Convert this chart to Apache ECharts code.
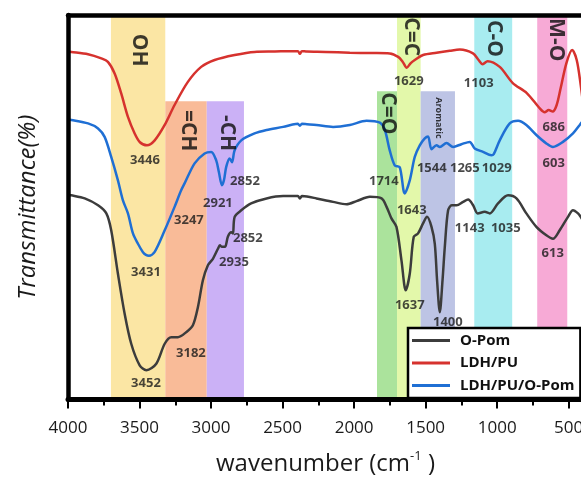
<!DOCTYPE html>
<html>
<head>
<meta charset="utf-8">
<script src="https://cdn.jsdelivr.net/npm/echarts@6/dist/echarts.min.js"></script>
<style>
  html, body { margin: 0; padding: 0; background: #fff; }
  #chart { width: 581px; height: 477px; }
</style>
</head>
<body>
<div id="chart"></div>
<script>
// FTIR spectra: wavenumber (cm-1) vs transmittance (arbitrary, offset traces)
const wavenumberTicks = [4000, 3500, 3000, 2500, 2000, 1500, 1000, 500];
const minorTicks = [3750, 3250, 2750, 2250, 1750, 1250, 750];

const seriesNames = ['O-Pom', 'LDH/PU', 'LDH/PU/O-Pom'];

const oPom = [
  [4000,53.2],[3977,53.1],[3883,52.3],[3790,50.5],[3732,48.4],[3698,44.0],[3651,32.7],[3604,22.3],
  [3558,14.5],[3499,8.9],[3452,7.6],[3383,9.3],[3324,14.5],[3278,16.2],[3232,16.2],[3174,17.5],
  [3127,19.3],[3092,24.0],[3057,31.0],[3022,34.9],[2987,36.6],[2952,39.2],[2938,40.1],[2924,39.7],
  [2903,39.7],[2882,42.4],[2859,43.5],[2847,43.2],[2835,47.5],[2789,49.2],[2720,51.0],[2612,52.3],
  [2496,52.9],[2430,52.9],[2393,52.9],[2379,52.3],[2365,52.9],[2330,52.8],[2263,52.3],[2147,51.4],
  [2053,50.8],[1983,51.6],[1890,52.7],[1808,52.3],[1773,50.1],[1739,47.1],[1704,44.9],[1669,36.2],
  [1639,28.4],[1611,32.7],[1583,42.3],[1553,43.2],[1518,45.8],[1490,47.5],[1459,44.9],[1436,40.5],
  [1420,31.0],[1401,22.7],[1382,31.0],[1366,39.7],[1343,49.2],[1317,50.5],[1284,50.5],[1238,51.4],
  [1203,52.0],[1168,50.5],[1136,48.4],[1087,48.8],[1052,48.4],[994,51.0],[924,53.1],[865,52.3],
  [796,48.4],[726,44.9],[656,42.7],[610,41.8],[563,44.0],[505,47.5],[470,49.2],[435,48.4],
  [416,47.5],[400,46.5]
];

const ldhPu = [
  [4000,90.5],[3977,90.4],[3860,89.8],[3767,88.7],[3721,87.8],[3674,84.8],[3628,79.6],[3581,73.5],
  [3534,69.2],[3497,66.9],[3448,66.1],[3394,67.4],[3324,71.4],[3255,76.6],[3162,82.6],[3069,86.5],
  [2975,88.3],[2835,89.6],[2696,90.4],[2554,90.5],[2430,90.6],[2393,90.6],[2379,89.9],[2365,90.6],
  [2330,90.5],[2200,90.4],[2030,90.2],[1880,90.1],[1751,90.0],[1692,89.1],[1660,87.8],[1632,86.3],
  [1604,87.5],[1576,88.3],[1518,89.6],[1424,90.2],[1331,90.7],[1261,91.0],[1169,90.0],[1130,88.3],
  [1101,87.2],[1067,88.0],[982,86.5],[891,82.3],[793,79.7],[702,75.7],[668,74.7],[640,75.3],
  [612,74.9],[584,76.6],[556,81.0],[516,87.5],[476,90.9],[444,88.3],[416,81.8],[400,77.0]
];

const ldhPuOPom = [
  [4000,72.8],[3977,72.7],[3860,71.8],[3790,70.5],[3744,68.3],[3698,63.1],[3651,57.0],[3616,51.8],
  [3581,48.4],[3546,43.2],[3511,40.5],[3476,38.3],[3455,37.6],[3434,37.4],[3394,38.4],[3324,44.0],
  [3255,50.1],[3209,54.4],[3185,56.2],[3115,61.4],[3045,64.0],[2999,64.4],[2964,62.2],[2945,59.1],
  [2924,55.7],[2910,57.0],[2894,60.5],[2870,62.7],[2854,61.7],[2835,64.8],[2789,67.4],[2696,69.2],
  [2612,70.1],[2496,70.9],[2430,71.5],[2393,71.7],[2379,71.2],[2365,71.7],[2330,71.6],[2263,71.4],
  [2147,70.9],[2030,71.4],[1913,72.5],[1820,72.0],[1785,70.1],[1751,64.8],[1716,60.9],[1681,60.4],
  [1646,53.6],[1611,57.0],[1576,63.1],[1541,66.1],[1506,67.9],[1483,68.4],[1459,65.1],[1424,66.1],
  [1401,65.7],[1354,66.7],[1308,65.7],[1250,66.4],[1192,67.0],[1157,65.3],[1099,64.4],[1040,63.5],
  [1024,63.8],[982,67.4],[912,71.8],[854,72.5],[796,71.4],[726,68.8],[656,66.6],[610,65.7],
  [540,67.0],[470,69.2],[423,71.4],[400,72.5]
];

// Assignment bands: label, high / low wavenumber, upper transmittance edge
const bandLabels = ['OH', '=CH', '-CH', 'C=O', 'C=C', 'Aromatic', 'C-O', 'M-O'];
const bandHigh   = [3700, 3320, 3030, 1840, 1700, 1535, 1160, 720];
const bandLow    = [3320, 3030, 2770, 1700, 1535, 1295, 895, 510];
const bandTop    = [100, 77.6, 77.6, 80.2, 100, 80.2, 100, 100];
// Where each band's rotated label starts (wavenumber, transmittance)
const bandLabelAt = [
  [3504, 95.1], [3158, 75.3], [2889, 74.0], [1761, 79.9],
  [1604, 99.4], [1408, 78.6], [1020, 98.7], [587, 99.2]
];

// Peak positions written next to the traces, with their label anchors
const peakLabels = ['3446','1629','1103','686',
                    '3247','2921','2852','1714','1643','1544','1265','1029','603','3431',
                    '2852','2935','3182','3452','1637','1400','1143','1035','613'];
const peakLabelAt = [
  [3462,62.2],[1618,82.8],[1129,82.3],[605,70.8],
  [3155,46.6],[2952,51.0],[2763,56.8],[1792,56.8],[1597,49.2],[1457,60.2],[1226,60.2],[1003,60.2],[605,61.5],[3455,33.1],
  [2743,41.9],[2840,35.7],[3141,12.0],[3455,4.2],[1611,24.5],[1345,20.1],[1192,44.5],[940,44.5],[612,38.0]
];

const FONT = '"Open Sans", "Noto Sans", sans-serif';
const lineColors = ['#3c3c3c', '#d6322e', '#1f6fd4'];
const bandColors = ['#fbe6a4', '#f9bb98', '#cbb1f6', '#abe39c', '#e3f8aa', '#bdc4e5', '#a8ecf0', '#f7aad6'];

const chart = echarts.init(document.getElementById('chart'), null, { renderer: 'canvas' });

const axisBase = {
  type: 'value', min: 400, max: 4000, inverse: true,
  splitLine: { show: false }
};

const bandAreas = bandLabels.map((name, i) => [
  { xAxis: bandHigh[i], yAxis: bandTop[i], itemStyle: { color: bandColors[i], opacity: 1 } },
  { xAxis: bandLow[i], yAxis: 0 }
]);

const traces = [oPom, ldhPu, ldhPuOPom].map((data, i) => ({
  name: seriesNames[i],
  type: 'line',
  data: data,
  showSymbol: false,
  symbol: 'none',
  smooth: 0.3,
  z: 3,
  lineStyle: { color: lineColors[i], width: 2.5 },
  itemStyle: { color: lineColors[i] }
}));

chart.setOption({
  animation: false,
  grid: { left: 68, top: 15, width: 515, height: 384.5, containLabel: false, outerBoundsMode: 'none' },
  legend: {
    data: seriesNames,
    orient: 'vertical',
    left: 408, top: 328,
    padding: [5, 6, 5, 4],
    itemGap: 7.5,
    icon: 'rect',
    itemWidth: 38, itemHeight: 3,
    backgroundColor: '#ffffff',
    borderColor: '#000', borderWidth: 2.5, borderRadius: 0,
    z: 10,
    textStyle: { fontFamily: FONT, fontSize: 15, lineHeight: 14, fontWeight: 'bold', color: '#111', padding: [0, 0, 0, 5] }
  },
  xAxis: [
    Object.assign({}, axisBase, {
      position: 'bottom', z: 6,
      axisLine: { onZero: false, lineStyle: { color: '#000', width: 5 } },
      axisTick: { customValues: wavenumberTicks, length: 9, lineStyle: { color: '#000', width: 2 } },
      axisLabel: { customValues: wavenumberTicks, formatter: v => String(v), fontFamily: FONT, fontSize: 17, color: '#1a1a1a', margin: 20 },
      name: '{a|wavenumber (cm}{s|-1}{a| )}',
      nameLocation: 'middle', nameGap: 50,
      nameTextStyle: {
        rich: {
          a: { fontFamily: FONT, fontSize: 24, color: '#1a1a1a', lineHeight: 30 },
          s: { fontFamily: FONT, fontSize: 13, color: '#1a1a1a', verticalAlign: 'top', lineHeight: 30, padding: [0, 0, 12, 0] }
        }
      }
    }),
    Object.assign({}, axisBase, {
      position: 'bottom', z: 5,
      axisLine: { show: false, onZero: false },
      axisTick: { customValues: minorTicks, length: 6, lineStyle: { color: '#000', width: 2 } },
      axisLabel: { show: false }
    }),
    Object.assign({}, axisBase, {
      position: 'top', z: 6,
      axisLine: { onZero: false, lineStyle: { color: '#000', width: 4.5 } },
      axisTick: { show: false },
      axisLabel: { show: false }
    })
  ],
  yAxis: {
    type: 'value', min: 0, max: 100, z: 6,
    axisLine: { show: true, onZero: false, lineStyle: { color: '#000', width: 4.5 } },
    axisTick: { show: false },
    axisLabel: { show: false },
    splitLine: { show: false },
    name: 'Transmittance(%)',
    nameLocation: 'middle', nameGap: 28,
    nameTextStyle: { fontFamily: FONT, fontSize: 24, fontStyle: 'italic', color: '#1a1a1a' }
  },
  series: [
    {
      name: 'bands', type: 'line', data: [], z: 1, silent: true,
      markArea: { silent: true, data: bandAreas }
    },
    ...traces,
    {
      name: 'band labels', type: 'scatter', symbolSize: 0, z: 4, silent: true,
      data: bandLabels.map((t, i) => ({
        name: t, value: bandLabelAt[i],
        label: t === 'Aromatic' ? { fontSize: 9 } : undefined
      })),
      label: {
        show: true, position: 'inside', formatter: '{b}', rotate: -90,
        align: 'left', verticalAlign: 'middle',
        fontFamily: FONT, fontWeight: 'bold', fontSize: 21, color: '#0d0d0d'
      }
    },
    {
      name: 'peak labels', type: 'scatter', symbolSize: 0, z: 4, silent: true,
      data: peakLabels.map((t, i) => ({ name: t, value: peakLabelAt[i] })),
      label: {
        show: true, position: 'inside', formatter: '{b}',
        align: 'center', verticalAlign: 'middle',
        fontFamily: FONT, fontWeight: 'bold', fontSize: 13, color: '#1a1a1a'
      }
    }
  ]
});
</script>
</body>
</html>
